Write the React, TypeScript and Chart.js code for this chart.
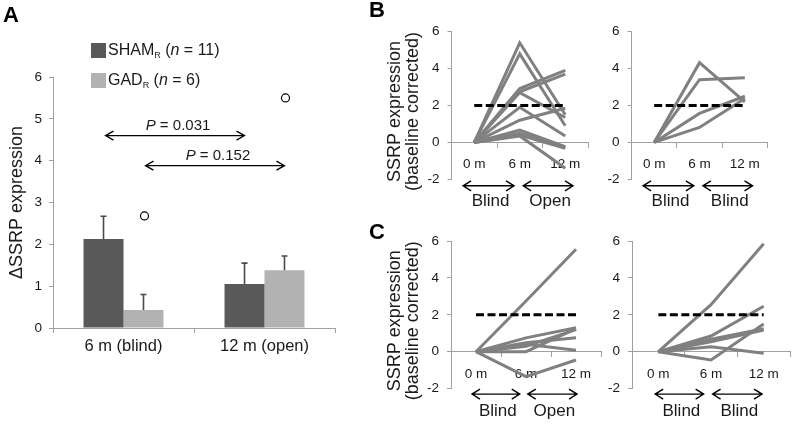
import React, { useEffect, useRef } from 'react';
import { Chart, registerables } from 'chart.js';

Chart.register(...registerables);

const W = 794;
const H = 424;
const FONT = '"Liberation Sans", Arial, sans-serif';
const AXIS_GRAY = '#a0a0a0';
const TEXT = '#1a1a1a';

// ---------- Panel A data ----------
const groupLabels = ['6 m (blind)', '12 m (open)'];
const shamMeans = [2.13, 1.05];
const shamErrors = [0.54, 0.5];
const gadMeans = [0.43, 1.38];
const gadErrors = [0.37, 0.34];
const gadOutliers = [2.68, 5.5];
const pValueTexts = ['0.031', '0.152'];
const pValueLevels = [4.6, 3.88];
const yTicksA = [0, 1, 2, 3, 4, 5, 6];

// ---------- Panels B / C data ----------
const timeLabels = ['0 m', '6 m', '12 m'];
const thresholdValues = [2, 2, 2];
const bShamSeries: number[][] = [
  [0, 5.4, 1.5],
  [0, 4.8, 0.9],
  [0, 2.92, 3.9],
  [0, 2.74, 3.7],
  [0, 2.7, 1.35],
  [0, 1.9, 0.35],
  [0, 1.2, 1.85],
  [0, 0.67, -0.23],
  [0, 0.5, -0.28],
  [0, 0.4, -0.32],
  [0, 0.35, -1.4],
];
const bGadSeries: number[][] = [
  [0, 4.32, 2.2],
  [0, 3.4, 3.5],
  [0, 1.57, 2.5],
  [0, 0.81, 2.38],
];
const cLeftSeries: number[][] = [
  [0, 2.75, 5.55],
  [0, -1.35, -0.45],
  [0, 0, 1.25],
  [0, 0.75, 1.3],
  [0, 0.48, 0.75],
  [0, 0.4, 0.08],
  [0, 0.3, 1.2],
];
const cRightSeries: number[][] = [
  [0, 2.55, 5.85],
  [0, 0.85, 2.46],
  [0, -0.45, 1.5],
  [0, 0.67, 1.24],
  [0, 0.54, 1.17],
  [0, 0.27, -0.09],
];
const yTicksBC = [-2, 0, 2, 4, 6];

type Run = { text: string; font: string; dy?: number };

function drawRuns(ctx: CanvasRenderingContext2D, runs: Run[], x: number, y: number, align: 'left' | 'center') {
  let total = 0;
  const widths = runs.map((r) => {
    ctx.font = r.font;
    const w = ctx.measureText(r.text).width;
    total += w;
    return w;
  });
  let cx = align === 'center' ? x - total / 2 : x;
  ctx.textAlign = 'left';
  ctx.textBaseline = 'middle';
  runs.forEach((r, i) => {
    ctx.font = r.font;
    ctx.fillText(r.text, cx, y + (r.dy || 0));
    cx += widths[i];
  });
}

function drawDoubleArrow(ctx: CanvasRenderingContext2D, x1: number, x2: number, y: number, hl: number, hh: number, lw: number) {
  ctx.save();
  ctx.strokeStyle = '#000';
  ctx.lineWidth = lw;
  ctx.beginPath();
  ctx.moveTo(x1, y);
  ctx.lineTo(x2, y);
  ctx.moveTo(x1 + hl, y - hh);
  ctx.lineTo(x1, y);
  ctx.lineTo(x1 + hl, y + hh);
  ctx.moveTo(x2 - hl, y - hh);
  ctx.lineTo(x2, y);
  ctx.lineTo(x2 - hl, y + hh);
  ctx.stroke();
  ctx.restore();
}

const annotA = {
  id: 'annotA',
  afterDatasetsDraw(chart: any) {
    const ctx: CanvasRenderingContext2D = chart.ctx;
    const y = chart.scales.y;
    const shamMeta = chart.getDatasetMeta(0);
    const gadMeta = chart.getDatasetMeta(1);
    ctx.save();
    // error bars
    const errs = [shamErrors, gadErrors];
    const means = [shamMeans, gadMeans];
    [shamMeta, gadMeta].forEach((meta: any, di: number) => {
      meta.data.forEach((bar: any, i: number) => {
        const x = bar.x;
        const y0 = y.getPixelForValue(means[di][i]);
        const y1 = y.getPixelForValue(means[di][i] + errs[di][i]);
        ctx.strokeStyle = '#4a4a4a';
        ctx.lineWidth = 1.6;
        ctx.beginPath();
        ctx.moveTo(x, y0);
        ctx.lineTo(x, y1);
        ctx.moveTo(x - 3, y1);
        ctx.lineTo(x + 3, y1);
        ctx.stroke();
      });
    });
    // outliers
    gadMeta.data.forEach((bar: any, i: number) => {
      const cy = y.getPixelForValue(gadOutliers[i]);
      ctx.beginPath();
      ctx.arc(bar.x + 1, cy, 4, 0, Math.PI * 2);
      ctx.fillStyle = '#fff';
      ctx.fill();
      ctx.strokeStyle = '#000';
      ctx.lineWidth = 1.2;
      ctx.stroke();
    });
    // P-value arrows
    const metas = [shamMeta, gadMeta];
    metas.forEach((meta: any, k: number) => {
      const x1 = meta.data[0].x + 2;
      const x2 = meta.data[1].x;
      const ay = y.getPixelForValue(pValueLevels[k]);
      drawDoubleArrow(ctx, x1, x2, ay, 8, 4.5, 1.3);
      ctx.fillStyle = TEXT;
      drawRuns(
        ctx,
        [
          { text: 'P', font: `italic 15px ${FONT}` },
          { text: ' = ' + pValueTexts[k], font: `15px ${FONT}` },
        ],
        (x1 + x2) / 2 + 3,
        ay - 10,
        'center'
      );
    });
    // legend
    const legend = [
      { color: '#595959', name: 'SHAM', n: '11', cy: 50.5 },
      { color: '#b2b2b2', name: 'GAD', n: '6', cy: 80.5 },
    ];
    legend.forEach((l) => {
      ctx.fillStyle = l.color;
      ctx.fillRect(91, l.cy - 7.5, 15, 15);
      ctx.fillStyle = TEXT;
      drawRuns(
        ctx,
        [
          { text: l.name, font: `16px ${FONT}` },
          { text: 'R', font: `9px ${FONT}`, dy: 5 },
          { text: ' (', font: `16px ${FONT}` },
          { text: 'n', font: `italic 16px ${FONT}` },
          { text: ' = ' + l.n + ')', font: `16px ${FONT}` },
        ],
        108,
        l.cy,
        'left'
      );
    });
    // y axis title
    ctx.save();
    ctx.translate(17, (chart.chartArea.top + chart.chartArea.bottom) / 2);
    ctx.rotate(-Math.PI / 2);
    ctx.font = `18px ${FONT}`;
    ctx.fillStyle = TEXT;
    ctx.textAlign = 'center';
    ctx.textBaseline = 'middle';
    ctx.fillText('\u0394SSRP expression', 0, 0);
    ctx.restore();
    // panel letters
    ctx.fillStyle = '#000';
    ctx.font = `bold 22px ${FONT}`;
    ctx.textAlign = 'left';
    ctx.textBaseline = 'top';
    ctx.fillText('A', 3, 5);
    ctx.fillText('B', 369, 0);
    ctx.fillText('C', 369, 222);
    ctx.restore();
  },
};

function makeBarChart(canvas: HTMLCanvasElement) {
  const plotLeft = 53;
  const plotRight = 335;
  const plotTop = 77;
  const plotBottom = 328;
  const xH = 40;
  return new Chart(canvas, {
    type: 'bar',
    data: {
      labels: groupLabels,
      datasets: [
        { label: 'SHAM', data: shamMeans, backgroundColor: '#595959', categoryPercentage: 0.567, barPercentage: 1 },
        { label: 'GAD', data: gadMeans, backgroundColor: '#b2b2b2', categoryPercentage: 0.567, barPercentage: 1 },
      ],
    },
    options: {
      animation: false,
      responsive: false,
      events: [],
      layout: { padding: { left: plotLeft - 53, top: plotTop, right: W - plotRight, bottom: H - plotBottom - xH } },
      plugins: { legend: { display: false }, tooltip: { enabled: false } },
      scales: {
        x: {
          offset: true,
          grid: { offset: true, drawOnChartArea: false, tickLength: 5, color: AXIS_GRAY },
          border: { color: AXIS_GRAY },
          ticks: { font: { family: FONT, size: 16.5 }, color: TEXT, padding: 4 },
          afterFit: (s: any) => {
            s.height = xH;
          },
        },
        y: {
          min: 0,
          max: 6,
          afterBuildTicks: (s: any) => {
            s.ticks = yTicksA.map((v) => ({ value: v }));
          },
          ticks: { font: { family: FONT, size: 13.5 }, color: TEXT, padding: 7 },
          grid: { drawOnChartArea: false, tickLength: 4, color: AXIS_GRAY },
          border: { color: AXIS_GRAY },
          afterFit: (s: any) => {
            s.width = 53;
          },
        },
      },
    } as any,
    plugins: [annotA],
  });
}

type PanelCfg = {
  series: number[][];
  left: number;
  right: number;
  top: number;
  bottom: number;
  title: boolean;
  arrows: number[][];
  words: string[];
  arrowDy: number;
};

function makeLinePanel(canvas: HTMLCanvasElement, p: PanelCfg) {
  const yW = 40;
  const annot = {
    id: 'annotBC',
    afterDraw(chart: any) {
      const ctx: CanvasRenderingContext2D = chart.ctx;
      const xs = chart.scales.x;
      const bottom = chart.chartArea.bottom;
      ctx.save();
      p.arrows.forEach((a, i) => {
        const x1 = xs.getPixelForValue(a[0]);
        const x2 = xs.getPixelForValue(a[1]);
        drawDoubleArrow(ctx, x1, x2, bottom + p.arrowDy, 8, 5, 1.4);
        ctx.fillStyle = TEXT;
        ctx.font = `17px ${FONT}`;
        ctx.textAlign = 'center';
        ctx.textBaseline = 'middle';
        ctx.fillText(p.words[i], (x1 + x2) / 2 + 2, bottom + 22.5);
      });
      if (p.title) {
        ctx.save();
        ctx.translate(0, (chart.chartArea.top + chart.chartArea.bottom) / 2 + 6);
        ctx.rotate(-Math.PI / 2);
        ctx.font = `18px ${FONT}`;
        ctx.fillStyle = TEXT;
        ctx.textAlign = 'center';
        ctx.textBaseline = 'middle';
        ctx.fillText('SSRP expression', 0, 395);
        ctx.fillText('(baseline corrected)', 0, 413);
        ctx.restore();
      }
      ctx.restore();
    },
  };
  const datasets: any[] = [
    {
      data: thresholdValues,
      borderColor: '#000',
      borderWidth: 3,
      borderDash: [8, 3.5],
      pointRadius: 0,
      fill: false,
    },
    ...p.series.map((s) => ({
      data: s,
      borderColor: '#808080',
      borderWidth: 3,
      pointRadius: 0,
      fill: false,
    })),
  ];
  return new Chart(canvas, {
    type: 'line',
    data: { labels: timeLabels, datasets },
    options: {
      animation: false,
      responsive: false,
      events: [],
      layout: { padding: { left: p.left - yW, top: p.top, right: W - p.right, bottom: H - p.bottom } },
      plugins: { legend: { display: false }, tooltip: { enabled: false } },
      scales: {
        x: {
          type: 'category',
          position: { y: 0 },
          offset: true,
          grid: { offset: true, drawOnChartArea: false, tickLength: 5, color: AXIS_GRAY },
          border: { color: AXIS_GRAY },
          ticks: { font: { family: FONT, size: 13.5 }, color: TEXT, padding: 9 },
        },
        y: {
          min: -2,
          max: 6,
          afterBuildTicks: (s: any) => {
            s.ticks = yTicksBC.map((v) => ({ value: v }));
          },
          ticks: { font: { family: FONT, size: 13.5 }, color: TEXT, padding: 8 },
          grid: { drawOnChartArea: false, tickLength: 4, color: AXIS_GRAY },
          border: { color: AXIS_GRAY },
          afterFit: (s: any) => {
            s.width = yW;
          },
        },
      },
    } as any,
    plugins: [annot],
  });
}

const panelConfigs: PanelCfg[] = [
  { series: bShamSeries, left: 451.5, right: 588, top: 31.7, bottom: 179.3, title: true, arrows: [[-0.245, 0.875], [1.075, 2.17]], words: ['Blind', 'Open'], arrowDy: 6.5 },
  { series: bGadSeries, left: 631.5, right: 767.5, top: 31.7, bottom: 179.3, title: false, arrows: [[-0.245, 0.875], [1.075, 2.17]], words: ['Blind', 'Blind'], arrowDy: 6.5 },
  { series: cLeftSeries, left: 451, right: 601, top: 241, bottom: 388.6, title: true, arrows: [[-0.08, 0.875], [1.035, 2.02]], words: ['Blind', 'Open'], arrowDy: 5.5 },
  { series: cRightSeries, left: 632, right: 790, top: 241, bottom: 388.6, title: false, arrows: [[-0.06, 0.86], [1.03, 1.97]], words: ['Blind', 'Blind'], arrowDy: 5.5 },
];

export default function App() {
  const r0 = useRef<HTMLCanvasElement>(null);
  const r1 = useRef<HTMLCanvasElement>(null);
  const r2 = useRef<HTMLCanvasElement>(null);
  const r3 = useRef<HTMLCanvasElement>(null);
  const r4 = useRef<HTMLCanvasElement>(null);
  const refs = [r0, r1, r2, r3, r4];

  useEffect(() => {
    const charts: Chart[] = [];
    charts.push(makeBarChart(r0.current as HTMLCanvasElement));
    [r1, r2, r3, r4].forEach((r, i) => {
      charts.push(makeLinePanel(r.current as HTMLCanvasElement, panelConfigs[i]));
    });
    return () => charts.forEach((c) => c.destroy());
  }, []);

  return (
    <div style={{ position: 'absolute', left: 0, top: 0, width: W, height: H, background: '#fff', overflow: 'hidden' }}>
      {refs.map((r, i) => (
        <canvas
          key={i}
          ref={r}
          width={W}
          height={H}
          style={{ position: 'absolute', left: 0, top: 0, width: W, height: H, pointerEvents: 'none' }}
        />
      ))}
    </div>
  );
}
